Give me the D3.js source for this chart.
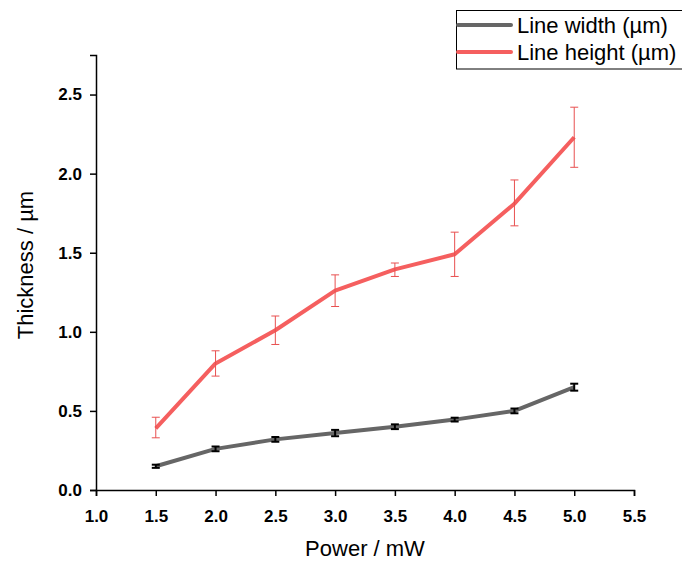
<!DOCTYPE html>
<html>
<head>
<meta charset="utf-8">
<script src="https://cdn.jsdelivr.net/npm/d3@7"></script>
<style>
  body { margin: 0; background: #fff; }
  text { font-family: "Liberation Sans", Arial, sans-serif; }
</style>
</head>
<body>
<svg width="682" height="561"></svg>
<script>
// data
const power = [1.5, 2.0, 2.5, 3.0, 3.5, 4.0, 4.5, 5.0]
const width_um = [0.15, 0.26, 0.32, 0.36, 0.40, 0.445, 0.50, 0.65]
const width_err = [0.01, 0.015, 0.015, 0.02, 0.015, 0.012, 0.015, 0.022]
const height_um = [0.39, 0.80, 1.01, 1.26, 1.395, 1.49, 1.81, 2.23]
const height_lo = [0.33, 0.72, 0.92, 1.16, 1.35, 1.35, 1.67, 2.04]
const height_hi = [0.46, 0.88, 1.10, 1.36, 1.435, 1.63, 1.96, 2.42]
const xticks = [1.0, 1.5, 2.0, 2.5, 3.0, 3.5, 4.0, 4.5, 5.0, 5.5]
const yticks = [0.0, 0.5, 1.0, 1.5, 2.0, 2.5]

const svg = d3.select("svg")
const x = d3.scaleLinear().domain([1.0, 5.5]).range([96, 634])
const y = d3.scaleLinear().domain([0, 2.75]).range([490, 55])

// axes
const xAxis = svg.append("g").attr("transform", "translate(0,490)")
xAxis.call(d3.axisBottom(x).tickValues(d3.range(1.25, 5.5, 0.5)).tickSize(3).tickFormat(""))
xAxis.call(d3.axisBottom(x).tickValues(xticks).tickSize(6).tickFormat(d3.format(".1f")))
const yAxis = svg.append("g").attr("transform", "translate(96,0)")
yAxis.call(d3.axisLeft(y).tickValues(d3.range(0.25, 2.75, 0.5)).tickSize(3).tickFormat(""))
yAxis.call(d3.axisLeft(y).tickValues(yticks).tickSize(6).tickFormat(d3.format(".1f")))
svg.selectAll(".domain").attr("stroke", "#000").attr("stroke-width", 1.5)
svg.selectAll(".tick line").attr("stroke", "#000").attr("stroke-width", 1.5)
svg.selectAll(".tick text")
  .style("font-size", "17px").style("font-weight", "bold").attr("fill", "#000")
  .style("font-family", "Liberation Sans, Arial, sans-serif")
xAxis.selectAll(".tick text").attr("dy", "1.38em")
yAxis.selectAll(".tick text").attr("dx", "-0.3em")

svg.append("text").attr("x", 365).attr("y", 556).attr("text-anchor", "middle")
  .style("font-size", "22px").text("Power / mW")
svg.append("text").attr("transform", "translate(33,265) rotate(-90)").attr("text-anchor", "middle")
  .style("font-size", "22px").text("Thickness / µm")

const line = d3.line().x(d => x(d[0])).y(d => y(d[1]))
const grey = "#666666", red = "#f55f5f"

// width series
svg.append("path").datum(power.map((p, i) => [p, width_um[i]]))
  .attr("d", line).attr("fill", "none").attr("stroke", grey).attr("stroke-width", 4)
  .attr("stroke-linejoin", "round")
const we = svg.append("g").selectAll("g").data(power).enter().append("g")
we.append("line").attr("x1", d => x(d)).attr("x2", d => x(d))
  .attr("y1", (d, i) => y(width_um[i] - width_err[i])).attr("y2", (d, i) => y(width_um[i] + width_err[i]))
  .attr("stroke", "#000").attr("stroke-width", 2)
we.selectAll(".cap").data((d, i) => [[d, width_um[i] - width_err[i]], [d, width_um[i] + width_err[i]]]).enter()
  .append("line").attr("x1", d => x(d[0]) - 4).attr("x2", d => x(d[0]) + 4)
  .attr("y1", d => y(d[1])).attr("y2", d => y(d[1])).attr("stroke", "#000").attr("stroke-width", 2)

// height series
svg.append("path").datum(power.map((p, i) => [p, height_um[i]]))
  .attr("d", line).attr("fill", "none").attr("stroke", red).attr("stroke-width", 4)
  .attr("stroke-linejoin", "round")
const he = svg.append("g").selectAll("g").data(power).enter().append("g")
he.append("line").attr("x1", d => x(d)).attr("x2", d => x(d))
  .attr("y1", (d, i) => y(height_lo[i])).attr("y2", (d, i) => y(height_hi[i]))
  .attr("stroke", "#e85050").attr("stroke-width", 1)
he.selectAll(".cap").data((d, i) => [[d, height_lo[i]], [d, height_hi[i]]]).enter()
  .append("line").attr("x1", d => x(d[0]) - 4).attr("x2", d => x(d[0]) + 4)
  .attr("y1", d => y(d[1])).attr("y2", d => y(d[1])).attr("stroke", "#e85050").attr("stroke-width", 1)

// legend
const lg = svg.append("g")
lg.append("rect").attr("x", 456.5).attr("y", 10.5).attr("width", 240).attr("height", 58.5)
  .attr("fill", "#fff").attr("stroke", "#000").attr("stroke-width", 1)
const items = [["Line width (µm)", grey], ["Line height (µm)", red]]
items.forEach((it, i) => {
  const yy = 25 + i * 27
  lg.append("line").attr("x1", 458).attr("x2", 511).attr("y1", yy).attr("y2", yy)
    .attr("stroke", it[1]).attr("stroke-width", 4).attr("stroke-linecap", "round")
  lg.append("text").attr("x", 517).attr("y", yy + 8).style("font-size", "22px").text(it[0])
})
</script>
</body>
</html>
